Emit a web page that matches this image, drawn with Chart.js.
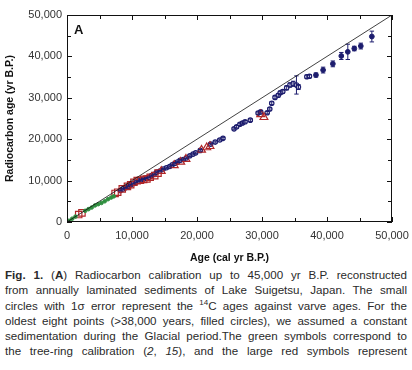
<!DOCTYPE html>
<html>
<head>
<meta charset="utf-8">
<script src="https://cdn.jsdelivr.net/npm/chart.js@4.4.1/dist/chart.umd.min.js"></script>
<style>
  body { margin: 0; background: #fff; font-family: "Liberation Sans", Arial, sans-serif; }
  #wrap { position: relative; width: 412px; height: 370px; }
  #chartBox { position: absolute; left: 0; top: 0; width: 412px; height: 265px; }
  #panel { position: absolute; left: 74px; top: 22px; font: bold 13px "Liberation Sans", Arial, sans-serif; color: #111; }
  #caption { position: absolute; left: 5px; top: 267px; width: 402px; font-size: 11.6px; line-height: 15.3px; color: #2a2a2a; }
  #caption div { text-align: justify; text-align-last: justify; white-space: nowrap; }
</style>
</head>
<body>
<div id="wrap">
  <div id="chartBox"><canvas id="myChart" width="412" height="265"></canvas></div>
  <div id="panel">A</div>
  <div id="caption">
    <div><b>Fig. 1.</b> (<b>A</b>) Radiocarbon calibration up to 45,000 yr B.P. reconstructed</div>
    <div>from annually laminated sediments of Lake Suigetsu, Japan. The small</div>
    <div>circles with 1σ error represent the <sup style="font-size:8px;line-height:0">14</sup>C ages against varve ages. For the</div>
    <div>oldest eight points (&gt;38,000 years, filled circles), we assumed a constant</div>
    <div>sedimentation during the Glacial period.The green symbols correspond to</div>
    <div>the tree-ring calibration (<i>2</i>, <i>15</i>), and the large red symbols represent</div>
  </div>
</div>
<script>
// varve ages (cal yr B.P.) vs radiocarbon ages (yr B.P.)
const openAge = [8200, 8600, 9000, 9400, 9800, 10200, 10600, 11000, 11400, 11800, 12200, 12600, 13000, 13400, 13800, 14300, 14800, 15300, 15800, 16200, 16600, 17000, 17400, 17900, 18400, 18900, 19400, 19800, 20500, 22100, 22800, 23500, 24000, 25700, 26100, 26600, 27000, 27400, 28200, 29400, 29800, 30800, 31200, 31500, 32000, 32500, 32800, 33200, 33800, 34300, 34800, 35300, 35600, 36900, 37300];
const open14C = [7600, 8000, 8300, 8600, 9000, 9300, 9600, 9900, 10200, 10400, 10600, 10800, 11200, 11500, 12000, 12300, 12800, 13100, 13400, 13800, 14200, 14500, 14900, 15100, 15500, 16000, 16400, 16700, 17300, 18800, 19300, 19800, 20200, 22500, 23000, 23600, 23900, 24200, 24600, 26300, 26600, 26400, 27300, 28700, 30100, 30600, 31200, 31500, 32400, 33100, 33400, 33100, 32600, 35100, 35200];
const openErr = [100, 100, 100, 100, 100, 100, 100, 100, 100, 120, 120, 120, 120, 120, 150, 150, 150, 150, 150, 150, 150, 150, 180, 180, 180, 200, 200, 200, 200, 200, 250, 250, 250, 250, 300, 300, 300, 300, 300, 300, 300, 300, 300, 350, 350, 400, 400, 400, 500, 500, 600, 2200, 600, 400, 400];

const filledAge = [38300, 39400, 40900, 42200, 43200, 44200, 45200, 46900];
const filled14C = [35500, 36700, 38200, 40100, 41100, 41900, 42500, 44800];
const filledErr = [500, 700, 700, 850, 1850, 550, 700, 1300];

const treeAge = [300, 800, 1300, 2800, 3300, 3800, 4300, 4800, 5300, 5800, 6300, 6800, 7200];
const tree14C = [300, 800, 1300, 2700, 3100, 3500, 4000, 4300, 4600, 5000, 5500, 5900, 6200];

const squareAge = [1800, 2300, 7400, 7800, 8500, 9300, 9800, 10300, 10800, 11300, 11800, 12300, 12800, 13500, 14000];
const square14C = [1800, 2200, 6900, 7200, 8000, 8600, 9000, 9600, 10000, 10100, 10300, 10400, 10800, 11200, 11800];

const triAge = [14500, 16500, 17500, 18300, 20700, 21500, 22000, 29800, 30300];
const tri14C = [12300, 13700, 14500, 15200, 17400, 18000, 18300, 26000, 25300];

const axisTicks = [0, 10000, 20000, 30000, 40000, 50000];

const navy = "#1d1d6e";
const red = "#b02628";
const green = "#2f8f3f";

const pts = (xs, ys) => xs.map((v, i) => ({ x: v, y: ys[i] }));

// error bars as line segments broken by gaps
const errData = [];
const errRadius = [];
const addBars = (xs, ys, es) => {
  for (let i = 0; i < xs.length; i++) {
    errData.push({ x: xs[i], y: ys[i] - es[i] }, { x: xs[i], y: ys[i] + es[i] }, { x: xs[i], y: null });
    errRadius.push(2.2, 2.2, 0);
  }
};
addBars(openAge, open14C, openErr);
addBars(filledAge, filled14C, filledErr);

const frameTicks = {
  id: "frameTicks",
  afterDraw(chart) {
    const { ctx, chartArea: { left, right, top, bottom }, scales: { x, y } } = chart;
    ctx.save();
    ctx.strokeStyle = "#111";
    ctx.lineWidth = 1;
    ctx.strokeRect(left + 0.5, top + 0.5, right - left - 1, bottom - top - 1);
    ctx.beginPath();
    for (let v = 0; v <= 50000; v += 5000) {
      const len = v % 10000 === 0 ? 5 : 4;
      const px = Math.round(x.getPixelForValue(v)) + 0.5;
      ctx.moveTo(px, bottom); ctx.lineTo(px, bottom - len);
      ctx.moveTo(px, top); ctx.lineTo(px, top + len);
      const py = Math.round(y.getPixelForValue(v)) + 0.5;
      ctx.moveTo(left, py); ctx.lineTo(left + len, py);
      ctx.moveTo(right, py); ctx.lineTo(right - len, py);
    }
    ctx.stroke();
    ctx.restore();
  }
};

const font = { family: "'Liberation Sans', Arial, sans-serif", size: 11 };

new Chart("myChart", {
  type: "scatter",
  data: {
    datasets: [
      {
        type: "line",
        data: [{ x: 0, y: 0 }, { x: 50000, y: 50000 }],
        borderColor: "#111",
        borderWidth: 0.8,
        pointRadius: 0,
        fill: false,
      },
      {
        type: "line",
        data: errData,
        borderColor: navy,
        borderWidth: 1,
        pointStyle: "line",
        pointRadius: errRadius,
        pointBorderColor: navy,
        pointBorderWidth: 1,
        spanGaps: false,
        fill: false,
      },
      {
        data: pts(treeAge, tree14C),
        pointStyle: "circle",
        pointRadius: 1.8,
        backgroundColor: green,
        borderColor: green,
        borderWidth: 1,
      },
      {
        data: pts(squareAge, square14C),
        pointStyle: "rect",
        pointRadius: 4.5,
        backgroundColor: "rgba(0,0,0,0)",
        borderColor: red,
        borderWidth: 1.2,
      },
      {
        data: pts(triAge, tri14C),
        pointStyle: "triangle",
        pointRadius: 4.5,
        backgroundColor: "rgba(0,0,0,0)",
        borderColor: red,
        borderWidth: 1.2,
      },
      {
        data: pts(openAge, open14C),
        pointStyle: "circle",
        pointRadius: 2.2,
        backgroundColor: "rgba(255,255,255,0.6)",
        borderColor: navy,
        borderWidth: 1.2,
      },
      {
        data: pts(filledAge, filled14C),
        pointStyle: "circle",
        pointRadius: 2.4,
        backgroundColor: navy,
        borderColor: navy,
        borderWidth: 1,
      },
    ],
  },
  plugins: [frameTicks],
  options: {
    responsive: false,
    animation: false,
    layout: { padding: { top: 15, right: 20, left: 0, bottom: 0 } },
    plugins: { legend: { display: false }, tooltip: { enabled: false } },
    scales: {
      x: {
        type: "linear",
        min: 0,
        max: 50000,
        afterBuildTicks: (s) => { s.ticks = axisTicks.map((v) => ({ value: v })); },
        afterFit: (s) => { s.height = 43; s.paddingLeft = 0; s.paddingRight = 0; },
        grid: { display: false, drawTicks: false },
        border: { display: false },
        ticks: {
          padding: 7,
          maxRotation: 0,
          color: "#333",
          font: font,
          callback: (v) => v.toLocaleString("en-US"),
        },
        title: {
          display: true,
          text: "Age (cal yr B.P.)",
          color: "#111",
          font: { family: font.family, size: 10.5, weight: "bold" },
          padding: { top: 2, bottom: 1 },
        },
      },
      y: {
        type: "linear",
        min: 0,
        max: 50000,
        afterBuildTicks: (s) => { s.ticks = axisTicks.map((v) => ({ value: v })); },
        afterFit: (s) => { s.width = 67; s.paddingTop = 0; s.paddingBottom = 0; },
        grid: { display: false, drawTicks: false },
        border: { display: false },
        ticks: {
          padding: 5,
          color: "#333",
          font: font,
          callback: (v) => v.toLocaleString("en-US"),
        },
        title: {
          display: true,
          text: "Radiocarbon age (yr B.P.)",
          color: "#111",
          font: { family: font.family, size: 10.5, weight: "bold" },
          padding: { top: 4, bottom: 0 },
        },
      },
    },
  },
});
</script>
</body>
</html>
